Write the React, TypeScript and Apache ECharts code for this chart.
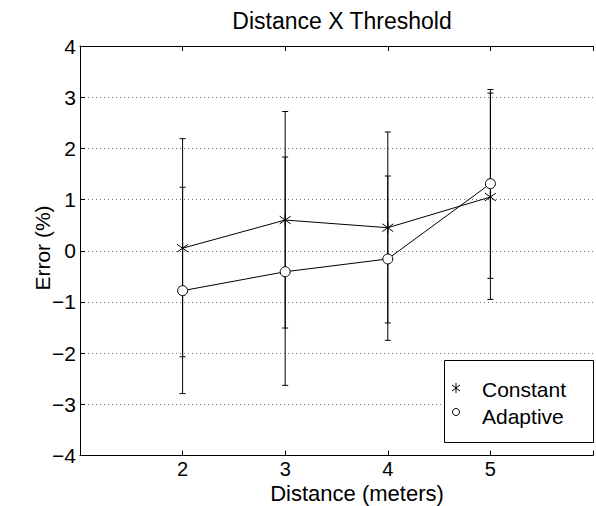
import React, { useEffect, useRef } from "react";
import * as echarts from "echarts";

const distances = [2, 3, 4, 5];
const constantMean = [0.05, 0.6, 0.45, 1.05];
const constantLow = [-2.07, -1.51, -1.41, -0.95];
const constantHigh = [2.19, 2.72, 2.32, 3.08];
const adaptiveMean = [-0.78, -0.41, -0.16, 1.31];
const adaptiveLow = [-2.79, -2.63, -1.75, -0.54];
const adaptiveHigh = [1.24, 1.83, 1.46, 3.15];
const yTicks = [-4, -3, -2, -1, 0, 1, 2, 3, 4];

const FONT = "Liberation Sans";
const ASTERISK = "path://M5,0L5,10M1,1.5L9,8.5M1,8.5L9,1.5";

function errorSeries(name: string, low: number[], high: number[]) {
  return {
    type: "custom",
    name,
    silent: true,
    z: 1,
    data: distances.map((d, i) => [d, low[i], high[i]]),
    renderItem: (params: any, api: any) => {
      const x = api.value(0);
      const lo = api.coord([x, api.value(1)]);
      const hi = api.coord([x, api.value(2)]);
      const cap = 3;
      const style = { stroke: "#000", lineWidth: 1 };
      return {
        type: "group",
        children: [
          { type: "line", shape: { x1: lo[0], y1: lo[1], x2: hi[0], y2: hi[1] }, style },
          { type: "line", shape: { x1: lo[0] - cap, y1: lo[1], x2: lo[0] + cap, y2: lo[1] }, style },
          { type: "line", shape: { x1: hi[0] - cap, y1: hi[1], x2: hi[0] + cap, y2: hi[1] }, style },
        ],
      };
    },
  };
}

const lineStyle = { stroke: "#000", lineWidth: 1 };

export default function App() {
  const ref = useRef<HTMLDivElement>(null);
  useEffect(() => {
    if (!ref.current) return;
    const chart = echarts.init(ref.current, null, { renderer: "svg" });
    const option: any = {
      animation: false,
      backgroundColor: "#fff",
      grid: { left: 80, top: 46, bottom: 50.5, right: -6.5, containLabel: false },
      xAxis: [
        {
          type: "value",
          min: 1,
          max: 6,
          interval: 1,
          position: "bottom",
          axisLine: { show: true, onZero: false, lineStyle: { color: "#000", width: 1 } },
          axisTick: { show: true, inside: true, length: 5, lineStyle: { color: "#000" } },
          axisLabel: {
            margin: 3,
            color: "#000",
            fontFamily: FONT,
            fontSize: 20,
            lineHeight: 20,
            formatter: (v: number) => (distances.indexOf(v) >= 0 ? String(v) : ""),
          },
          splitLine: { show: false },
        },
        {
          type: "value",
          min: 1,
          max: 6,
          interval: 1,
          position: "top",
          axisLine: { show: true, onZero: false, lineStyle: { color: "#000", width: 1 } },
          axisTick: { show: true, inside: true, length: 5, lineStyle: { color: "#000" } },
          axisLabel: { show: false },
          splitLine: { show: false },
        },
      ],
      yAxis: {
        type: "value",
        min: yTicks[0],
        max: yTicks[yTicks.length - 1],
        interval: 1,
        axisLine: { show: true, onZero: false, lineStyle: { color: "#000", width: 1 } },
        axisTick: { show: true, inside: true, length: 5, lineStyle: { color: "#000" } },
        axisLabel: {
          margin: 4,
          color: "#000",
          fontFamily: FONT,
          fontSize: 21,
          formatter: (v: number) => String(v).replace("-", "\u2212"),
        },
        splitLine: { show: true, lineStyle: { color: "#777", type: [1, 3], width: 1 } },
      },
      series: [
        errorSeries("constantErr", constantLow, constantHigh),
        errorSeries("adaptiveErr", adaptiveLow, adaptiveHigh),
        {
          type: "line",
          name: "Constant",
          data: distances.map((d, i) => [d, constantMean[i]]),
          symbol: ASTERISK,
          symbolSize: 11,
          showAllSymbol: true,
          z: 3,
          lineStyle: { color: "#000", width: 1 },
          itemStyle: { color: "none", borderColor: "#000", borderWidth: 1 },
        },
        {
          type: "line",
          name: "Adaptive",
          data: distances.map((d, i) => [d, adaptiveMean[i]]),
          symbol: "circle",
          symbolSize: 10,
          showAllSymbol: true,
          z: 3,
          lineStyle: { color: "#000", width: 1 },
          itemStyle: { color: "#fff", borderColor: "#000", borderWidth: 1 },
        },
      ],
      graphic: [
        {
          type: "text",
          style: {
            text: "Distance X Threshold",
            x: 342,
            y: 21,
            align: "center",
            verticalAlign: "middle",
            fontFamily: FONT,
            fontSize: 23,
            fill: "#000",
          },
        },
        {
          type: "text",
          style: {
            text: "Distance (meters)",
            x: 357,
            y: 493,
            align: "center",
            verticalAlign: "middle",
            fontFamily: FONT,
            fontSize: 22,
            lineHeight: 22,
            fill: "#000",
          },
        },
        {
          type: "text",
          x: 42,
          y: 248,
          rotation: Math.PI / 2,
          style: {
            text: "Error (%)",
            x: 0,
            y: 0,
            align: "center",
            verticalAlign: "middle",
            fontFamily: FONT,
            fontSize: 21,
            fill: "#000",
          },
        },
        {
          type: "rect",
          shape: { x: 444.5, y: 360.5, width: 149, height: 82 },
          style: { fill: "#fff", stroke: "#000", lineWidth: 1 },
          z: 10,
        },
        { type: "line", z: 11, shape: { x1: 456, y1: 383, x2: 456, y2: 393 }, style: lineStyle },
        { type: "line", z: 11, shape: { x1: 452, y1: 385, x2: 460, y2: 391 }, style: lineStyle },
        { type: "line", z: 11, shape: { x1: 452, y1: 391, x2: 460, y2: 385 }, style: lineStyle },
        {
          type: "circle",
          z: 11,
          shape: { cx: 456, cy: 412, r: 3.5 },
          style: { fill: "#fff", stroke: "#000", lineWidth: 1 },
        },
        {
          type: "text",
          z: 11,
          style: { text: "Constant", x: 482, y: 389, verticalAlign: "middle", fontFamily: FONT, fontSize: 21, fill: "#000" },
        },
        {
          type: "text",
          z: 11,
          style: { text: "Adaptive", x: 482, y: 416, verticalAlign: "middle", fontFamily: FONT, fontSize: 21, fill: "#000" },
        },
      ],
    };
    chart.setOption(option);
    return () => chart.dispose();
  }, []);
  return <div ref={ref} style={{ position: "fixed", left: 0, top: 0, width: 596, height: 506 }} />;
}
